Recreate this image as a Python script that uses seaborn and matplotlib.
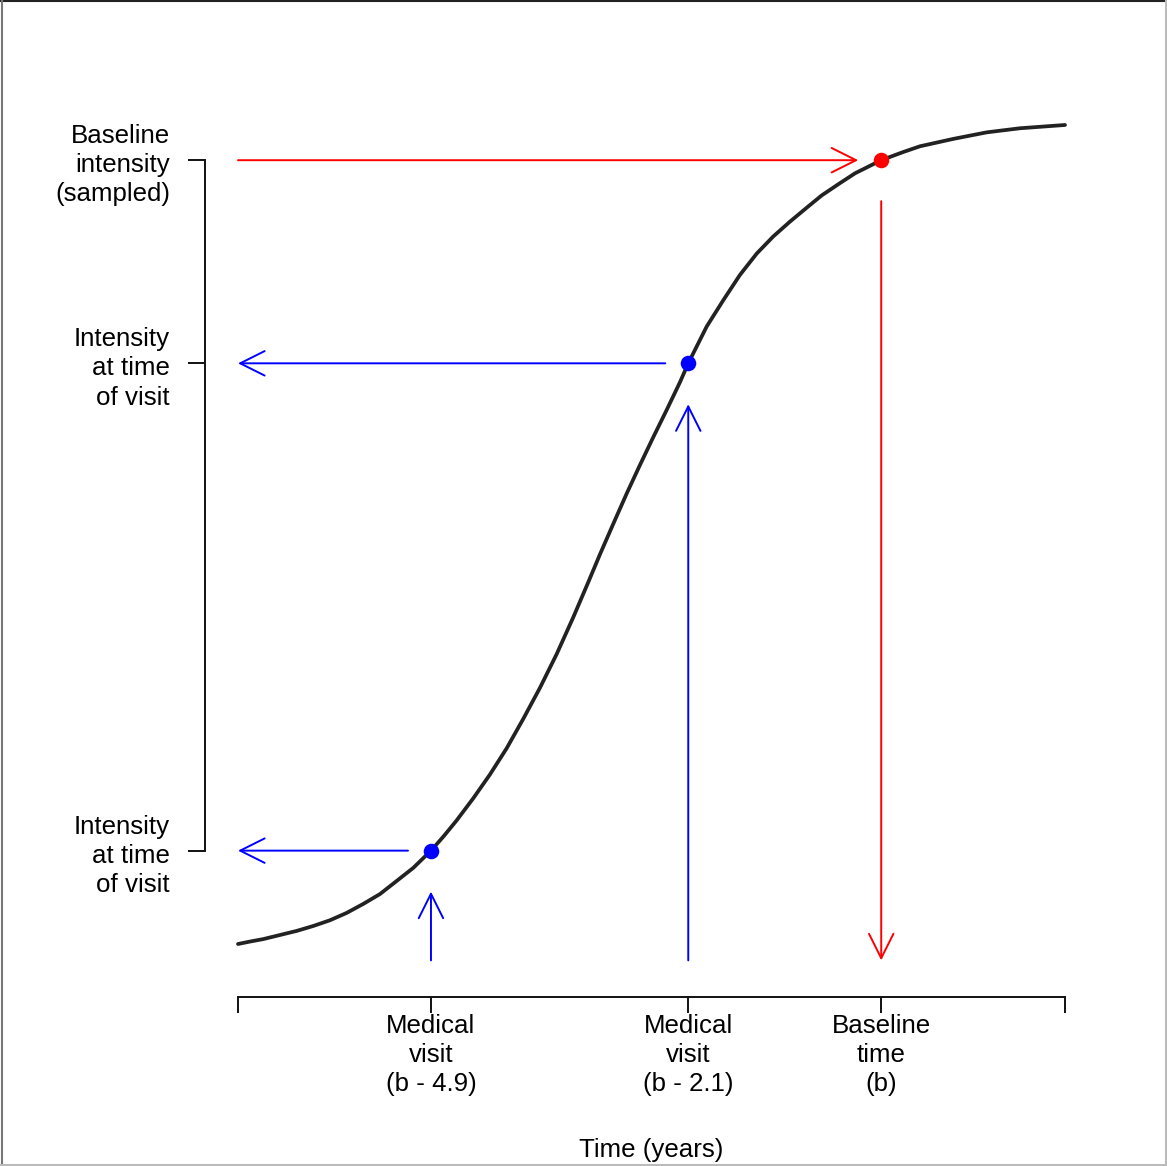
import numpy as np
import pandas as pd
import matplotlib
matplotlib.use("Agg")
import matplotlib.pyplot as plt
from matplotlib.lines import Line2D
import seaborn as sns

# curve: time relative to baseline b (years) vs intensity (0..1)
time_years = [-7.000, -6.869, -6.725, -6.543, -6.361, -6.181, -5.999, -5.817, -5.636, -5.455,
              -5.273, -5.092, -4.900, -4.766, -4.620, -4.439, -4.258, -4.076, -3.895, -3.713,
              -3.532, -3.351, -3.191, -3.060, -2.916, -2.770, -2.625, -2.480, -2.335, -2.190,
              -2.100, -1.899, -1.719, -1.537, -1.355, -1.174, -0.993, -0.811, -0.648, -0.449,
              -0.285, 0.000, 0.240, 0.422, 0.784, 1.148, 1.510, 2.000]
intensity = [0.000, 0.003, 0.006, 0.011, 0.016, 0.022, 0.029, 0.038, 0.049, 0.061,
             0.077, 0.093, 0.114, 0.131, 0.151, 0.178, 0.207, 0.239, 0.275, 0.313,
             0.354, 0.399, 0.441, 0.476, 0.513, 0.550, 0.585, 0.619, 0.652, 0.686,
             0.709, 0.754, 0.786, 0.817, 0.843, 0.864, 0.882, 0.899, 0.914, 0.929,
             0.941, 0.957, 0.967, 0.974, 0.983, 0.991, 0.996, 1.000]

visit_time = [-4.9, -2.1]
visit_intensity = [0.114, 0.709]
baseline_time = [0.0]
baseline_intensity = [0.957]

x_ticks = [-7, -4.9, -2.1, 0, 2]
x_tick_labels = ["", "Medical\nvisit\n(b - 4.9)", "Medical\nvisit\n(b - 2.1)", "Baseline\ntime\n(b)", ""]
y_tick_labels = ["Intensity\nat time\nof visit", "Intensity\nat time\nof visit",
                 "Baseline\nintensity\n(sampled)"]

curve = pd.DataFrame({"time": time_years, "intensity": intensity})

sns.set_style("ticks")
plt.rcParams["font.family"] = ["Liberation Sans", "DejaVu Sans"]
plt.rcParams["font.size"] = 18.6
plt.rcParams["text.color"] = "black"
plt.rcParams["axes.labelcolor"] = "black"
plt.rcParams["xtick.color"] = "black"
plt.rcParams["ytick.color"] = "black"

W, H = 1167, 1166
fig = plt.figure(figsize=(W / 100, H / 100), dpi=100)
ax = fig.add_axes([238 / W, 169 / H, 827 / W, 897 / H])
ax.set_xlim(-7, 2)
ax.set_ylim(-0.0647, 1.0305)

sns.lineplot(data=curve, x="time", y="intensity", ax=ax, color="#222222",
             linewidth=2.7, clip_on=False, zorder=3)

gap_x, gap_y, arrow_base = 0.25, 0.05, -0.02
arr = dict(arrowstyle="->,head_length=0.4,head_width=0.2", mutation_scale=44,
           linewidth=1.4, shrinkA=0, shrinkB=0)

# blue arrows: visit time up to the curve, then intensity across to the axis
for t, v in zip(visit_time, visit_intensity):
    ax.annotate("", xy=(t, v - gap_y), xytext=(t, arrow_base),
                arrowprops=dict(arr, color="#0000ff"), annotation_clip=False)
    ax.annotate("", xy=(-7, v), xytext=(t - gap_x, v),
                arrowprops=dict(arr, color="#0000ff"), annotation_clip=False)

# red arrows: sampled intensity across to the curve, then down to baseline time
for t, v in zip(baseline_time, baseline_intensity):
    ax.annotate("", xy=(t - gap_x, v), xytext=(-7, v),
                arrowprops=dict(arr, color="#ff0000"), annotation_clip=False)
    ax.annotate("", xy=(t, arrow_base), xytext=(t, v - gap_y),
                arrowprops=dict(arr, color="#ff0000"), annotation_clip=False)

sns.scatterplot(x=visit_time, y=visit_intensity, ax=ax, color="#0000ff", s=125,
                linewidth=0, zorder=4, clip_on=False)
sns.scatterplot(x=baseline_time, y=baseline_intensity, ax=ax, color="#ff0000", s=125,
                linewidth=0, zorder=4, clip_on=False)

# axes drawn R-style
for side in ["top", "right"]:
    ax.spines[side].set_visible(False)
ax.spines["bottom"].set_bounds(-7, 2)
ax.spines["left"].set_position(("outward", 33 * 0.72))
ax.spines["left"].set_bounds(visit_intensity[0], baseline_intensity[0])
for side in ["bottom", "left"]:
    ax.spines[side].set_linewidth(1.4)
    ax.spines[side].set_color("#111111")

ax.set_xticks(x_ticks)
ax.set_xticklabels(x_tick_labels, linespacing=1.27)
ax.set_yticks(visit_intensity + baseline_intensity)
ax.set_yticklabels(y_tick_labels, linespacing=1.27)
ax.tick_params(axis="x", direction="out", length=11.5, width=1.4, pad=0.5, color="#111111")
ax.tick_params(axis="y", direction="out", length=12.2, width=1.4, pad=13, color="#111111")

ax.set_xlabel("Time (years)")
ax.xaxis.set_label_coords(0.5, -0.1706)
ax.xaxis.label.set_va("center")
ax.set_ylabel("")

# figure frame
fig.add_artist(Line2D([0, 1], [1 - 1 / H, 1 - 1 / H], color="#222222", linewidth=1.5))
fig.add_artist(Line2D([1.5 / W, 1.5 / W], [0, 1], color="#777777", linewidth=1.5))
fig.add_artist(Line2D([1 - 1.5 / W, 1 - 1.5 / W], [0, 1], color="#bbbbbb", linewidth=1.5))
fig.add_artist(Line2D([0, 1], [1.5 / H, 1.5 / H], color="#bbbbbb", linewidth=1.5))

fig.savefig("out.png", dpi=100, facecolor="white")
